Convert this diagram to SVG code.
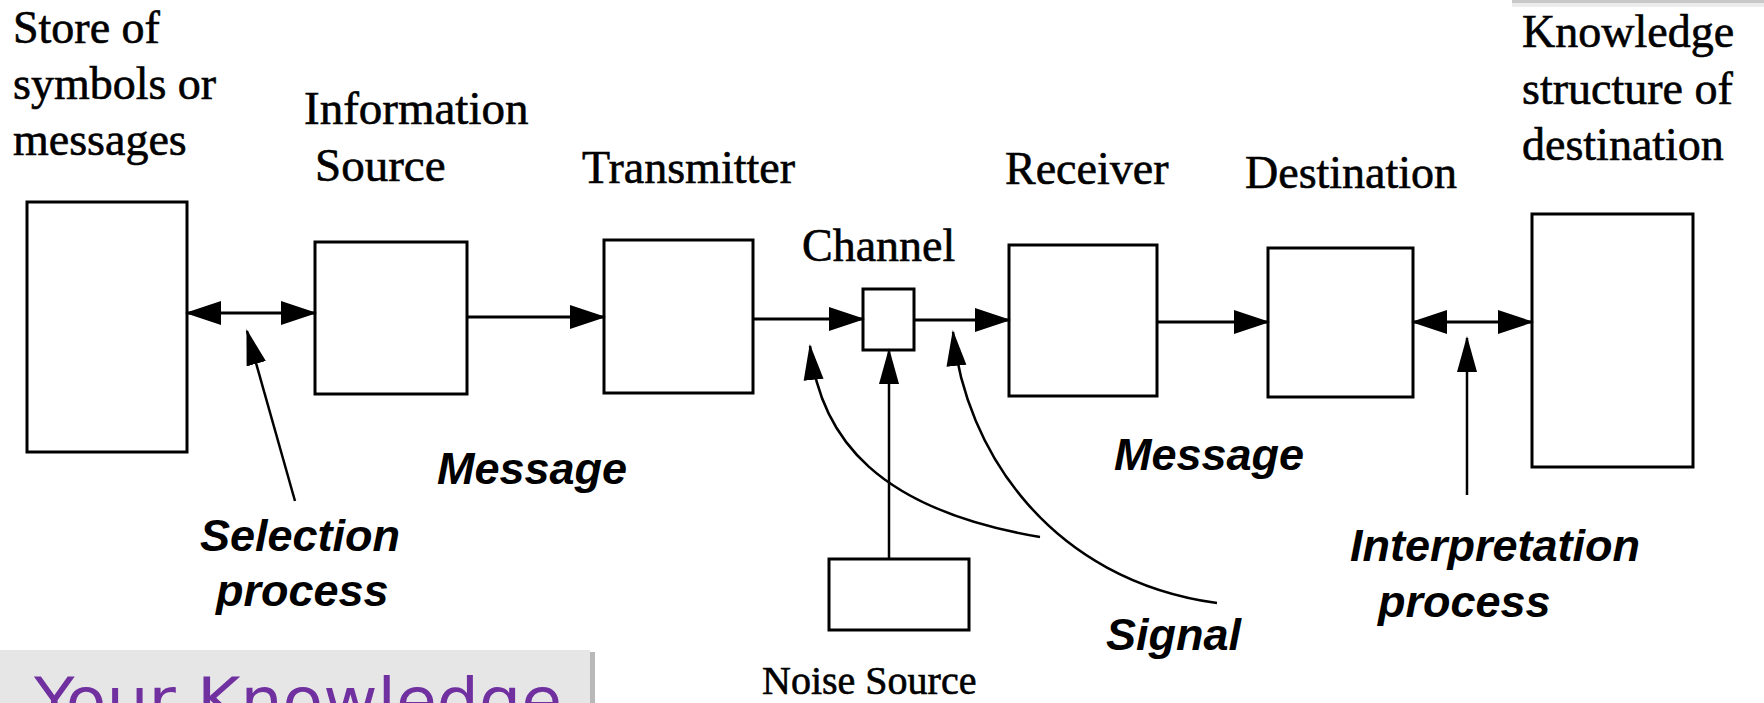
<svg xmlns="http://www.w3.org/2000/svg" width="1764" height="703" viewBox="0 0 1764 703">
<style>
.box{fill:#fff;stroke:#000;stroke-width:3}
.ln{fill:none;stroke:#000;stroke-width:3}
.pt{fill:none;stroke:#000;stroke-width:2.5}
.serif{font-family:"Liberation Serif","Times New Roman",serif;font-size:46px;fill:#000;stroke:#000;stroke-width:0.6}
.lab{font-family:"Liberation Sans",Arial,sans-serif;font-size:45px;font-weight:bold;font-style:italic;fill:#000}
</style>
<defs>
<marker id="ah" markerUnits="userSpaceOnUse" markerWidth="36" markerHeight="26" refX="34" refY="13" orient="auto-start-reverse">
<path d="M0,1 L36,13 L0,25 z" fill="#000"/>
</marker>
<marker id="pa" markerUnits="userSpaceOnUse" markerWidth="36" markerHeight="22" refX="34" refY="11" orient="auto">
<path d="M0,1 L36,11 L0,21 z" fill="#000"/>
</marker>
</defs>
<rect width="1764" height="703" fill="#fff"/>
<g id="topbar">
<rect x="1512" y="0" width="252" height="7" fill="#ececec"/>
<rect x="1512" y="0" width="252" height="3" fill="#c8c8c8"/>
</g>
<g id="store"><rect class="box" x="27" y="202" width="160" height="250"/>
<text class="serif" x="13" y="43">Store of</text><text class="serif" x="13" y="99">symbols or</text><text class="serif" x="13" y="155">messages</text></g>
<g id="source"><rect class="box" x="315" y="242" width="152" height="152"/>
<text class="serif" x="304" y="124" style="font-size:47px">Information</text><text class="serif" x="315" y="181" style="font-size:47px">Source</text></g>
<g id="transmitter"><rect class="box" x="604" y="240" width="149" height="153"/>
<text class="serif" x="582" y="183">Transmitter</text></g>
<g id="channel"><rect class="box" x="863" y="289" width="51" height="61"/>
<text class="serif" x="802" y="261">Channel</text></g>
<g id="receiver"><rect class="box" x="1009" y="245" width="148" height="151"/>
<text class="serif" x="1005" y="184">Receiver</text></g>
<g id="destination"><rect class="box" x="1268" y="248" width="145" height="149"/>
<text class="serif" x="1245" y="188">Destination</text></g>
<g id="knowledge"><rect class="box" x="1532" y="214" width="161" height="253"/>
<text class="serif" x="1522" y="47">Knowledge</text><text class="serif" x="1522" y="104">structure of</text><text class="serif" x="1522" y="160">destination</text></g>
<g id="noise"><rect class="box" x="829" y="559" width="140" height="71"/>
<text class="serif" x="762" y="694" style="font-size:40px">Noise Source</text></g>
<g id="connectors">
<line class="ln" x1="187" y1="313" x2="315" y2="313" marker-start="url(#ah)" marker-end="url(#ah)"/>
<line class="ln" x1="467" y1="317" x2="604" y2="317" marker-end="url(#ah)"/>
<line class="ln" x1="753" y1="319" x2="863" y2="319" marker-end="url(#ah)"/>
<line class="ln" x1="914" y1="320" x2="1009" y2="320" marker-end="url(#ah)"/>
<line class="ln" x1="1157" y1="322" x2="1268" y2="322" marker-end="url(#ah)"/>
<line class="ln" x1="1413" y1="322" x2="1532" y2="322" marker-start="url(#ah)" marker-end="url(#ah)"/>
<path class="pt" d="M295,501 L247,331" marker-end="url(#pa)"/>
<path class="pt" d="M1040,537 C880,510 820,440 810,346" marker-end="url(#pa)"/>
<path class="pt" d="M1217,603 C1050,580 965,450 953,332" marker-end="url(#pa)"/>
<path class="pt" d="M889,559 L889,350" marker-end="url(#pa)"/>
<path class="pt" d="M1467,495 L1467,338" marker-end="url(#pa)"/>
</g>
<g id="labels">
<text class="lab" x="437" y="484">Message</text>
<text class="lab" x="1114" y="470">Message</text>
<text class="lab" x="200" y="551">Selection</text>
<text class="lab" x="216" y="606">process</text>
<text class="lab" x="1350" y="561">Interpretation</text>
<text class="lab" x="1378" y="617">process</text>
<text class="lab" x="1106" y="650">Signal</text>
</g>
<g id="your-knowledge">
<rect x="588" y="652" width="7" height="51" fill="#b8b8b8"/>
<rect x="0" y="650" width="590" height="53" fill="#e6e6e6"/>
<text x="34" y="722" font-family="DejaVu Sans,sans-serif" font-size="62" fill="#7030a0" textLength="528" lengthAdjust="spacingAndGlyphs">Your Knowledge</text>
</g>
</svg>
